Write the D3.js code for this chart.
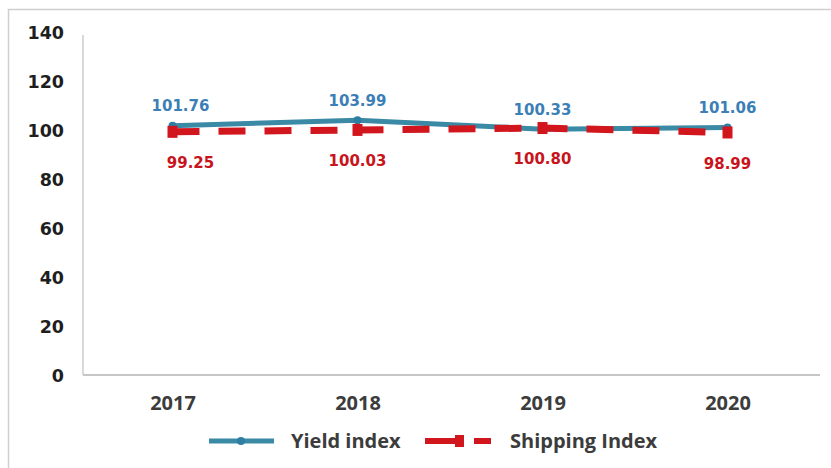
<!DOCTYPE html>
<html>
<head>
<meta charset="utf-8">
<script src="https://cdn.jsdelivr.net/npm/d3@7/dist/d3.min.js"></script>
<style>
  html, body { margin: 0; padding: 0; background: #fff; }
  svg { display: block; }
</style>
</head>
<body>
<svg id="chart" width="831" height="468"></svg>
<script>
// Yearly yield and shipping indices
const years = ["2017", "2018", "2019", "2020"];
const yieldIndex = [101.76, 103.99, 100.33, 101.06];
const shippingIndex = [99.25, 100.03, 100.80, 98.99];
const yTicks = [0, 20, 40, 60, 80, 100, 120, 140];
const seriesNames = ["Yield index", "Shipping Index"];

const svg = d3.select("#chart");

const yieldColor = "#3a8aa6";
const shipColor = "#d2161e";
const yieldLabelColor = "#3b7fb6";
const shipLabelColor = "#c8141c";

// Outer chart frame
svg.append("rect")
  .attr("x", 8.5).attr("y", 9.5)
  .attr("width", 830).attr("height", 470)
  .attr("fill", "#fff")
  .attr("stroke", "#cfcfcf").attr("stroke-width", 1.5);

const plot = { left: 80, right: 820, top: 32, bottom: 375 };

const x = d3.scalePoint()
  .domain(years)
  .range([plot.left, plot.right])
  .padding(0.5);

const y = d3.scaleLinear()
  .domain([0, 140])
  .range([plot.bottom, plot.top]);

// Axis lines
svg.append("line")
  .attr("x1", plot.left + 3).attr("x2", plot.left + 3)
  .attr("y1", plot.top + 3).attr("y2", plot.bottom)
  .attr("stroke", "#cccccc").attr("stroke-width", 1.5);
svg.append("line")
  .attr("x1", plot.left + 3).attr("x2", plot.right)
  .attr("y1", plot.bottom).attr("y2", plot.bottom)
  .attr("stroke", "#c6c6c6").attr("stroke-width", 2);

// Y axis tick labels
const yAxis = d3.axisLeft(y).tickValues(yTicks).tickSize(0).tickPadding(0);
const gy = svg.append("g")
  .attr("transform", `translate(64,0)`)
  .call(yAxis);
gy.select(".domain").remove();
gy.selectAll("text")
  .attr("font-family", "DejaVu Sans, Verdana, sans-serif")
  .attr("font-weight", "bold")
  .attr("font-size", 17.5)
  .attr("fill", "#1e1e1e")
  .attr("dy", "0.36em");

// X axis category labels
const xAxis = d3.axisBottom(x).tickSize(0).tickPadding(0);
const gx = svg.append("g")
  .attr("transform", `translate(0,${plot.bottom + 21})`)
  .call(xAxis);
gx.select(".domain").remove();
gx.selectAll("text")
  .attr("font-family", "Open Sans, sans-serif")
  .attr("font-weight", 700)
  .attr("font-size", 20)
  .attr("fill", "#3c3c3c")
  .attr("dy", "0.72em");

const line = d3.line()
  .x((d, i) => x(years[i]))
  .y(d => y(d));

// Yield index: solid teal line with circle markers
svg.append("path")
  .datum(yieldIndex)
  .attr("d", line)
  .attr("fill", "none")
  .attr("stroke", yieldColor)
  .attr("stroke-width", 5)
  .attr("stroke-linejoin", "round");
svg.selectAll(".yieldMark")
  .data(yieldIndex)
  .join("circle")
  .attr("class", "yieldMark")
  .attr("cx", (d, i) => x(years[i]))
  .attr("cy", d => y(d))
  .attr("r", 4)
  .attr("fill", "#2f7ea3");

// Shipping index: dashed red line with square markers, drawn on top
svg.append("path")
  .datum(shippingIndex)
  .attr("d", line)
  .attr("fill", "none")
  .attr("stroke", shipColor)
  .attr("stroke-width", 7)
  .attr("stroke-dasharray", "27 19");
svg.selectAll(".shipMark")
  .data(shippingIndex)
  .join("rect")
  .attr("class", "shipMark")
  .attr("x", (d, i) => x(years[i]) - 5)
  .attr("y", d => y(d) - 6)
  .attr("width", 10).attr("height", 12)
  .attr("fill", shipColor);

// Value labels
const labelFont = "DejaVu Sans, Verdana, sans-serif";
svg.selectAll(".yieldLabel")
  .data(yieldIndex)
  .join("text")
  .attr("class", "yieldLabel")
  .attr("x", (d, i) => x(years[i]) + (i === 0 ? 8 : 0))
  .attr("y", d => y(d) - 20)
  .attr("dy", "0.36em")
  .attr("text-anchor", "middle")
  .attr("font-family", labelFont)
  .attr("font-weight", "bold")
  .attr("font-size", 15)
  .attr("fill", yieldLabelColor)
  .text(d => d.toFixed(2));

svg.selectAll(".shipLabel")
  .data(shippingIndex)
  .join("text")
  .attr("class", "shipLabel")
  .attr("x", (d, i) => x(years[i]) + (i === 0 ? 18 : 0))
  .attr("y", d => y(d) + 31)
  .attr("dy", "0.36em")
  .attr("text-anchor", "middle")
  .attr("font-family", labelFont)
  .attr("font-weight", "bold")
  .attr("font-size", 15)
  .attr("fill", shipLabelColor)
  .text(d => d.toFixed(2));

// Legend
const legY = 441;
const legFont = { family: "Open Sans, sans-serif", size: 20 };
const leg = svg.append("g");
leg.append("line")
  .attr("x1", 209).attr("x2", 274)
  .attr("y1", legY).attr("y2", legY)
  .attr("stroke", yieldColor).attr("stroke-width", 5);
leg.append("circle")
  .attr("cx", 241).attr("cy", legY).attr("r", 4)
  .attr("fill", "#2f7ea3");
leg.append("text")
  .attr("x", 291).attr("y", legY)
  .attr("dy", "0.36em")
  .attr("font-family", legFont.family)
  .attr("font-weight", 700)
  .attr("font-size", legFont.size)
  .attr("fill", "#3c3c3c")
  .text(seriesNames[0]);

leg.append("line")
  .attr("x1", 425).attr("x2", 491)
  .attr("y1", legY).attr("y2", legY)
  .attr("stroke", shipColor).attr("stroke-width", 6)
  .attr("stroke-dasharray", "38 11 20");
leg.append("rect")
  .attr("x", 455).attr("y", legY - 6)
  .attr("width", 9).attr("height", 12)
  .attr("fill", shipColor);
leg.append("text")
  .attr("x", 510).attr("y", legY)
  .attr("dy", "0.36em")
  .attr("font-family", legFont.family)
  .attr("font-weight", 700)
  .attr("font-size", legFont.size)
  .attr("fill", "#3c3c3c")
  .text(seriesNames[1]);
</script>
</body>
</html>
